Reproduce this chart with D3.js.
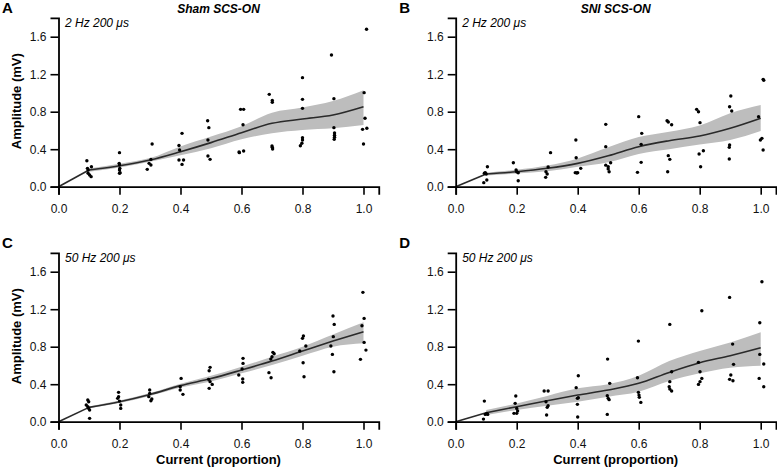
<!DOCTYPE html>
<html><head><meta charset="utf-8">
<script src="https://cdn.jsdelivr.net/npm/d3@7"></script>
<style>
body{margin:0;background:#fff}
text{font-family:"Liberation Sans",Arial,Helvetica,sans-serif}
</style>
</head><body>
<svg id="chart" width="777" height="470"></svg>
<script>
// ---------- data ----------
const levels = [0.1,0.2,0.3,0.4,0.5,0.6,0.7,0.8,0.9,1.0];
const xTicks = [0,0.2,0.4,0.6,0.8,1.0];
const yTicks = [0,0.4,0.8,1.2,1.6];
const panelLetters = ["A","B","C","D"];
const panelTitles = ["Sham SCS-ON","SNI SCS-ON","",""];
const panelSubtitles = ["2 Hz 200 μs","2 Hz 200 μs","50 Hz 200 μs","50 Hz 200 μs"];
const yLabel = "Amplitude (mV)";
const xLabel = "Current (proportion)";

const pointsA = [
 [0.093,0.277],[0.095,0.196],[0.108,0.213],[0.097,0.143],[0.102,0.125],[0.107,0.107],[0.097,0.178],
 [0.2,0.363],[0.199,0.249],[0.2,0.231],[0.201,0.196],[0.2,0.178],[0.202,0.149],[0.2,0.143],
 [0.307,0.455],[0.303,0.291],[0.297,0.249],[0.303,0.231],[0.291,0.185],
 [0.405,0.569],[0.395,0.439],[0.397,0.391],[0.395,0.285],[0.41,0.285],[0.405,0.238],
 [0.489,0.704],[0.493,0.63],[0.49,0.498],[0.49,0.327],[0.497,0.292],
 [0.597,0.825],[0.607,0.825],[0.605,0.661],[0.607,0.381],[0.592,0.37],[0.593,0.363],
 [0.691,0.985],[0.701,0.92],[0.701,0.9],[0.7,0.434],[0.701,0.42],[0.702,0.402],
 [0.8,1.163],[0.8,0.932],[0.8,0.836],[0.8,0.523],[0.8,0.498],[0.798,0.463],[0.793,0.437],
 [0.895,1.405],[0.903,0.939],[0.903,0.63],[0.905,0.574],[0.905,0.55],[0.905,0.527],[0.904,0.505],
 [1.01,1.679],[1.002,1.003],[1.005,0.73],[1.011,0.623],[0.997,0.612],[1.0,0.455]
];
const meanA = [0.178,0.224,0.285,0.373,0.47,0.576,0.676,0.722,0.765,0.853];
const loA   = [0.16,0.205,0.265,0.335,0.41,0.505,0.57,0.605,0.623,0.658];
const hiA   = [0.195,0.245,0.305,0.43,0.535,0.645,0.79,0.845,0.914,1.03];

const pointsB = [
 [0.104,0.213],[0.097,0.15],[0.094,0.143],[0.102,0.071],[0.092,0.043],[0.1,0.135],
 [0.189,0.256],[0.198,0.178],[0.2,0.16],[0.205,0.149],[0.205,0.064],
 [0.311,0.363],[0.303,0.21],[0.296,0.16],[0.3,0.135],[0.295,0.1],
 [0.394,0.498],[0.395,0.309],[0.41,0.196],[0.392,0.15],[0.397,0.146],[0.4,0.15],
 [0.492,0.665],[0.492,0.427],[0.492,0.23],[0.5,0.213],[0.508,0.256],[0.503,0.16],[0.5,0.19],
 [0.6,0.747],[0.61,0.569],[0.608,0.452],[0.608,0.26],[0.596,0.153],
 [0.693,0.704],[0.697,0.69],[0.708,0.661],[0.697,0.331],[0.702,0.292],[0.695,0.16],
 [0.79,0.825],[0.796,0.8],[0.801,0.683],[0.812,0.384],[0.798,0.349],[0.803,0.213],
 [0.902,0.967],[0.898,0.853],[0.905,0.807],[0.898,0.445],[0.897,0.42],[0.897,0.295],
 [1.008,1.145],[1.01,1.135],[0.993,0.747],[1.004,0.516],[0.999,0.498],[1.008,0.391]
];
const meanB = [0.135,0.16,0.196,0.249,0.33,0.427,0.491,0.541,0.623,0.73];
const loB   = [0.12,0.14,0.165,0.213,0.26,0.35,0.40,0.45,0.498,0.594];
const hiB   = [0.15,0.18,0.225,0.302,0.42,0.53,0.587,0.654,0.783,0.871];

const pointsC = [
 [0.096,0.231],[0.099,0.213],[0.091,0.178],[0.096,0.16],[0.099,0.142],[0.102,0.124],[0.102,0.036],
 [0.197,0.313],[0.197,0.267],[0.194,0.249],[0.2,0.22],[0.204,0.178],[0.204,0.142],
 [0.299,0.338],[0.299,0.302],[0.296,0.267],[0.306,0.242],[0.303,0.224],
 [0.402,0.462],[0.399,0.373],[0.399,0.338],[0.408,0.292],
 [0.497,0.58],[0.494,0.544],[0.492,0.452],[0.497,0.427],[0.504,0.398],[0.494,0.356],
 [0.605,0.676],[0.605,0.622],[0.602,0.562],[0.591,0.498],[0.604,0.455],[0.604,0.42],
 [0.703,0.74],[0.707,0.725],[0.7,0.693],[0.696,0.668],[0.69,0.523],[0.697,0.469],
 [0.803,0.914],[0.8,0.889],[0.811,0.807],[0.791,0.754],[0.802,0.629],[0.805,0.48],
 [0.9,1.127],[0.904,1.038],[0.901,0.907],[0.893,0.807],[0.898,0.718],[0.903,0.533],
 [0.998,1.38],[1.002,1.102],[0.995,1.024],[1.002,0.846],[1.008,0.764],[0.99,0.665]
];
const meanC = [0.153,0.213,0.29,0.385,0.46,0.551,0.647,0.754,0.86,0.96];
const loC   = [0.143,0.2,0.275,0.365,0.43,0.516,0.604,0.704,0.8,0.836];
const hiC   = [0.163,0.226,0.305,0.405,0.49,0.587,0.693,0.8,0.93,1.06];

const pointsD = [
 [0.094,0.22],[0.102,0.089],[0.105,0.078],[0.097,0.078],[0.091,0.028],
 [0.197,0.274],[0.195,0.196],[0.2,0.142],[0.191,0.089],[0.2,0.089],[0.203,0.114],
 [0.29,0.327],[0.303,0.327],[0.296,0.213],[0.303,0.17],[0.3,0.153],[0.298,0.071],
 [0.402,0.49],[0.395,0.363],[0.402,0.256],[0.399,0.249],[0.399,0.185],[0.4,0.05],
 [0.498,0.668],[0.505,0.409],[0.497,0.277],[0.5,0.249],[0.503,0.235],[0.497,0.078],
 [0.599,0.86],[0.596,0.469],[0.599,0.313],[0.601,0.284],[0.602,0.26],[0.607,0.206],
 [0.702,1.038],[0.708,0.533],[0.702,0.427],[0.7,0.373],[0.702,0.348],[0.708,0.327],
 [0.807,1.184],[0.796,0.633],[0.801,0.533],[0.807,0.462],[0.801,0.427],[0.796,0.398],
 [0.898,1.326],[0.908,0.828],[0.911,0.612],[0.902,0.498],[0.898,0.452],[0.909,0.437],
 [1.004,1.493],[0.997,1.056],[0.997,0.718],[1.01,0.615],[0.995,0.462],[1.01,0.373]
];
const meanD = [0.096,0.16,0.224,0.284,0.338,0.409,0.526,0.629,0.704,0.789];
const loD   = [0.071,0.125,0.17,0.213,0.267,0.32,0.434,0.516,0.576,0.597];
const hiD   = [0.124,0.195,0.275,0.356,0.40,0.49,0.647,0.754,0.846,0.953];

const allPoints = [pointsA,pointsB,pointsC,pointsD];
const allMeans = [meanA,meanB,meanC,meanD];
const allLo = [loA,loB,loC,loD];
const allHi = [hiA,hiB,hiC,hiD];

// ---------- layout ----------
const origins = [[58.5,186.7],[455.7,186.7],[58.5,421.7],[455.7,421.7]];
const unitX = 305, unitY = 93.75;
const svg = d3.select("#chart");

origins.forEach(([ox,oy],i)=>{
  const x = d3.scaleLinear().domain([0,1.05]).range([ox, ox+1.05*unitX]);
  const y = d3.scaleLinear().domain([0,1.8]).range([oy, oy-1.8*unitY]);
  const g = svg.append("g");

  // band
  const band = levels.map((l,k)=>({x:l, lo:allLo[i][k], hi:allHi[i][k]}));
  g.append("path").datum(band)
    .attr("fill","#bdbdbd").attr("stroke","none")
    .attr("d", d3.area().curve(d3.curveMonotoneX).x(d=>x(d.x)).y0(d=>y(d.lo)).y1(d=>y(d.hi)));

  // mean line: straight from origin to first level, smooth after
  const m = levels.map((l,k)=>({x:l, v:allMeans[i][k]}));
  g.append("path").datum([{x:0,v:0}, m[0]])
    .attr("fill","none").attr("stroke","#2a2a2a").attr("stroke-width",1.6)
    .attr("d", d3.line().x(d=>x(d.x)).y(d=>y(d.v)));
  g.append("path").datum(m)
    .attr("fill","none").attr("stroke","#2a2a2a").attr("stroke-width",1.6)
    .attr("d", d3.line().curve(d3.curveMonotoneX).x(d=>x(d.x)).y(d=>y(d.v)));

  // points
  g.selectAll("circle.pt").data(allPoints[i]).enter().append("circle")
    .attr("class","pt").attr("cx",d=>x(d[0])).attr("cy",d=>y(d[1]))
    .attr("r",1.7).attr("fill","#000");

  // axes
  const xa = g.append("g").attr("transform",`translate(0,${oy})`)
    .call(d3.axisBottom(x).tickValues(xTicks).tickFormat(d3.format(".1f"))
      .tickSizeOuter(0).tickSize(8).tickPadding(10));
  const ya = g.append("g").attr("transform",`translate(${ox},0)`)
    .call(d3.axisLeft(y).tickValues(yTicks).tickFormat(d3.format(".1f"))
      .tickSizeOuter(0).tickSize(8).tickPadding(4));
  [xa,ya].forEach(a=>{
    a.select(".domain").attr("stroke","#000").attr("stroke-width",1.8);
    a.selectAll(".tick line").attr("stroke","#000").attr("stroke-width",1.6);
    a.selectAll(".tick text").attr("fill","#111").style("font-size","12px")
      .style("font-family",'"Liberation Sans",Arial,sans-serif');
  });

  // letter
  svg.append("text").attr("x",ox-56.5).attr("y",oy-173.5)
    .style("font-size","15px").style("font-weight","bold").text(panelLetters[i]);
  // title
  if(panelTitles[i]) svg.append("text").attr("x",ox+160).attr("y",oy-173.5)
    .attr("text-anchor","middle").style("font-size","12px").style("font-weight","bold")
    .style("font-style","italic").text(panelTitles[i]);
  // subtitle
  svg.append("text").attr("x",ox+6.5).attr("y",oy-160)
    .style("font-size","12px").style("font-style","italic").text(panelSubtitles[i]);
  // y label (left panels)
  if(i%2===0) svg.append("text")
    .attr("transform",`translate(${ox-37.5},${oy-85.5}) rotate(-90)`)
    .attr("text-anchor","middle").style("font-size","13px").style("font-weight","bold")
    .text(yLabel);
  // x label (bottom panels)
  if(i>=2) svg.append("text").attr("x",ox+160).attr("y",oy+41.8)
    .attr("text-anchor","middle").style("font-size","13px").style("font-weight","bold")
    .text(xLabel);
});
</script>
</body></html>
